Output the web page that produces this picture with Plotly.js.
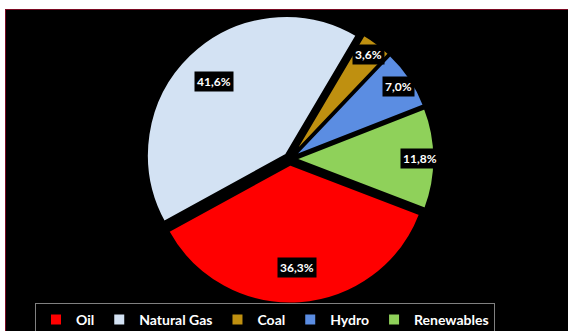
<!DOCTYPE html>
<html>
<head>
<meta charset="utf-8">
<script src="https://cdn.plot.ly/plotly-3.0.1.min.js"></script>
<style>
  html, body { margin: 0; padding: 0; background: #ffffff; width: 568px; height: 331px; overflow: hidden; }
  #wrap { position: absolute; left: 5px; top: 9px; border-left: 1px solid #7a0a22; border-top: 1px solid #7a0a22; background: #000; }
  #chart { width: 562px; height: 321px; }
</style>
</head>
<body>
<div id="wrap"><div id="chart"></div></div>
<script>
// ---- data ----
const categories = ["Oil", "Natural Gas", "Coal", "Hydro", "Renewables"];
const shares = [36.3, 41.6, 3.6, 7.0, 11.8];
const sliceColors = ["#ff0000", "#d3e2f3", "#bf9010", "#5b8de2", "#8fd15a"];

// ---- geometry / style ----
const W = 562, H = 321;
const rotation = 111;
const pull = 0.04;
const domY = [0.0855, 0.9862];
const domX = [0.18, 0.83];

// pie geometry as plotly computes it
const boxH = H * (domY[1] - domY[0]);
const boxW = W * (domX[1] - domX[0]);
const r = Math.min(boxW, boxH) / (2 + 2 * pull);
const cx = W * (domX[0] + domX[1]) / 2;
const cy = H * (1 - domY[0]) - boxH / 2;

const total = shares.reduce((a, b) => a + b, 0);
const annotations = [];
let ang = rotation;
shares.forEach((v, i) => {
  const span = v / total * 360;
  const mid = (ang + span / 2) * Math.PI / 180;
  ang += span;
  const frac = v / total;
  const d = r * pull + r * (frac < 0.15 ? 0.9 : 0.74);
  const px = cx + d * Math.sin(mid);
  const py = cy - d * Math.cos(mid);
  annotations.push({
    xref: "paper", yref: "paper",
    x: px / W, y: 1 - py / H,
    xanchor: "center", yanchor: "middle",
    text: v.toFixed(1).replace(".", ",") + "%",
    showarrow: false,
    bgcolor: "#000000",
    borderpad: 2,
    font: { family: "Lato, 'Open Sans', sans-serif", size: 12, color: "#ffffff", weight: "bold" }
  });
});

const trace = {
  type: "pie",
  labels: categories,
  values: shares,
  sort: false,
  direction: "clockwise",
  rotation: rotation,
  pull: pull,
  textinfo: "none",
  hoverinfo: "label+percent",
  marker: { colors: sliceColors, line: { color: "#000000", width: 2 } },
  domain: { x: domX, y: domY }
};

const layout = {
  width: W, height: H,
  margin: { l: 0, r: 0, t: 0, b: 0, autoexpand: false },
  paper_bgcolor: "#000000",
  plot_bgcolor: "#000000",
  showlegend: true,
  legend: {
    orientation: "h",
    x: (265 - 6) / W, xanchor: "center",
    y: 1 - (303 - 10) / H, yanchor: "top",
    bgcolor: "#000000",
    bordercolor: "#808080",
    borderwidth: 1,
    font: { family: "Lato, 'Open Sans', sans-serif", size: 14, color: "#ffffff", weight: "bold" },
    traceorder: "normal"
  },
  annotations: annotations
};

Plotly.newPlot("chart", [trace], layout, { displayModeBar: false, staticPlot: true });
</script>
</body>
</html>
